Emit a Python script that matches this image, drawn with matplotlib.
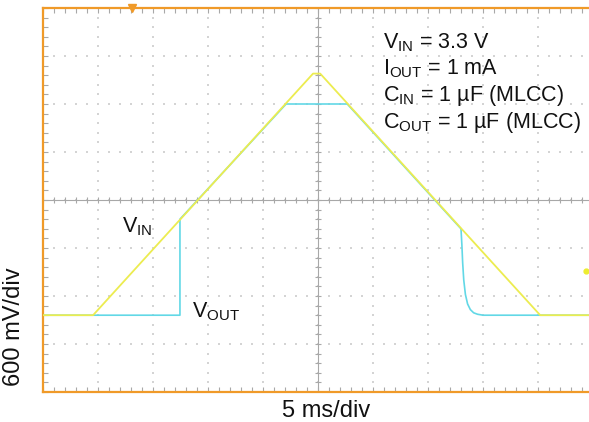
import numpy as np
import matplotlib
matplotlib.use("Agg")
import matplotlib.pyplot as plt

plt.rcParams["font.family"] = ["Liberation Sans", "DejaVu Sans"]
plt.rcParams["mathtext.default"] = "regular"

# Scope settings: 5 ms/div horizontal, 600 mV/div vertical, 10 x 8 divisions
MS_PER_DIV = 5.0
V_PER_DIV = 0.6
N_XDIV = 10
N_YDIV = 8
GND_DIV = 1.6          # ground reference, divisions above the bottom edge

# Input ramp (ms, V)
vin_t = [0.0, 4.55, 24.55, 25.2, 45.2, 50.0]
vin_v = [0.0, 0.0, 3.02, 3.02, 0.0, 0.0]

# Output (ms, V): turns on, tracks input, regulates, tracks down, discharges
vout_t = [0.0, 12.45, 12.45, 22.1, 27.66, 38.0, 38.08, 38.15, 38.25, 38.4,
          38.6, 38.85, 39.15, 39.5, 40.0, 50.0]
vout_v = [0.0, 0.0, 1.2, 2.64, 2.64, 1.08, 0.88, 0.66, 0.44, 0.26,
          0.14, 0.07, 0.03, 0.012, 0.0, 0.0]

trig_t = 8.1          # trigger position marker (ms)
trig_level = 0.55     # trigger level marker (V)

W, H = 589, 422
fig = plt.figure(figsize=(W / 100, H / 100), dpi=100)
ax = fig.add_axes([43 / W, 30 / H, 550 / W, 384 / H])

x_max = N_XDIV * MS_PER_DIV
y_min = -GND_DIV * V_PER_DIV
y_max = (N_YDIV - GND_DIV) * V_PER_DIV
ax.set_xlim(0, x_max)
ax.set_ylim(y_min, y_max)

grid_col = "#d4d4d4"
axis_col = "#a8a8a8"
orange = "#f09a28"

# Dotted graticule: dots every 0.2 div along each major line
xs_major = np.arange(1, N_XDIV) * MS_PER_DIV
ys_major = y_min + np.arange(1, N_YDIV) * V_PER_DIV
xs_fine = np.arange(0, N_XDIV * 5 + 1) * MS_PER_DIV / 5
ys_fine = y_min + np.arange(0, N_YDIV * 5 + 1) * V_PER_DIV / 5
for xm in xs_major:
    ax.scatter(np.full_like(ys_fine, xm), ys_fine, s=1.6, marker="s",
               color=grid_col, linewidths=0, zorder=1)
for ym in ys_major:
    ax.scatter(xs_fine, np.full_like(xs_fine, ym), s=1.6, marker="s",
               color=grid_col, linewidths=0, zorder=1)

# Centre cross with fine ticks
xc = x_max / 2
yc = (y_min + y_max) / 2
ax.axhline(yc, color=axis_col, lw=0.8, zorder=1.5)
ax.axvline(xc, color=axis_col, lw=0.8, zorder=1.5)
ax.plot(xs_fine, np.full_like(xs_fine, yc), ls="", marker="|", ms=5,
        mew=0.8, color=axis_col, zorder=1.5)
ax.plot(np.full_like(ys_fine, xc), ys_fine, ls="", marker="_", ms=5,
        mew=0.8, color=axis_col, zorder=1.5)

# Frame: orange border with fine inward ticks
for side in ("left", "top", "bottom"):
    ax.spines[side].set_color(orange)
    ax.spines[side].set_linewidth(1.6)
ax.spines["right"].set_visible(False)
ax.set_xticks(xs_fine, minor=True)
ax.set_yticks(ys_fine, minor=True)
ax.set_xticks([])
ax.set_yticks([])
ax.tick_params(which="minor", direction="in", length=3.5, width=0.8,
               color=axis_col, top=True, bottom=True, left=True, right=False,
               labelbottom=False, labelleft=False)

# Traces
ax.plot(vout_t, vout_v, color="#62d8e6", lw=1.2, zorder=3,
        solid_joinstyle="round")
ax.plot(vin_t, vin_v, color="#ecec50", lw=1.3, zorder=4,
        solid_joinstyle="round")

# Trigger markers
ax.plot([trig_t], [y_max], marker="v", ms=6, color=orange, clip_on=False,
        zorder=5)
ax.plot([x_max * 0.987], [trig_level], marker="o", ms=3.5, color="#eded30",
        clip_on=False, zorder=5)

# Annotations
def ftext(px, py, s, fs=15.5, **kw):
    fig.text(px / W, 1 - py / H, s, fontsize=fs, color="#111111", **kw)

info = ["$V_{IN}$ = 3.3 V", "$I_{OUT}$ = 1 mA",
        "$C_{IN}$ = 1 \u00b5F (MLCC)", "$C_{OUT}$ = 1 \u00b5F (MLCC)"]
for i, line in enumerate(info):
    ftext(383, [48, 74, 101, 128][i], line, va="baseline", ha="left")

ftext(122, 232, "$V_{IN}$", va="baseline", ha="left")
ftext(192, 317, "$V_{OUT}$", va="baseline", ha="left")
ftext(326, 417, "5 ms/div", fs=17, va="baseline", ha="center")
ftext(14, 327, "600 mV/div", fs=17, va="center", ha="center", rotation=90)

fig.savefig("out.png", dpi=100)
